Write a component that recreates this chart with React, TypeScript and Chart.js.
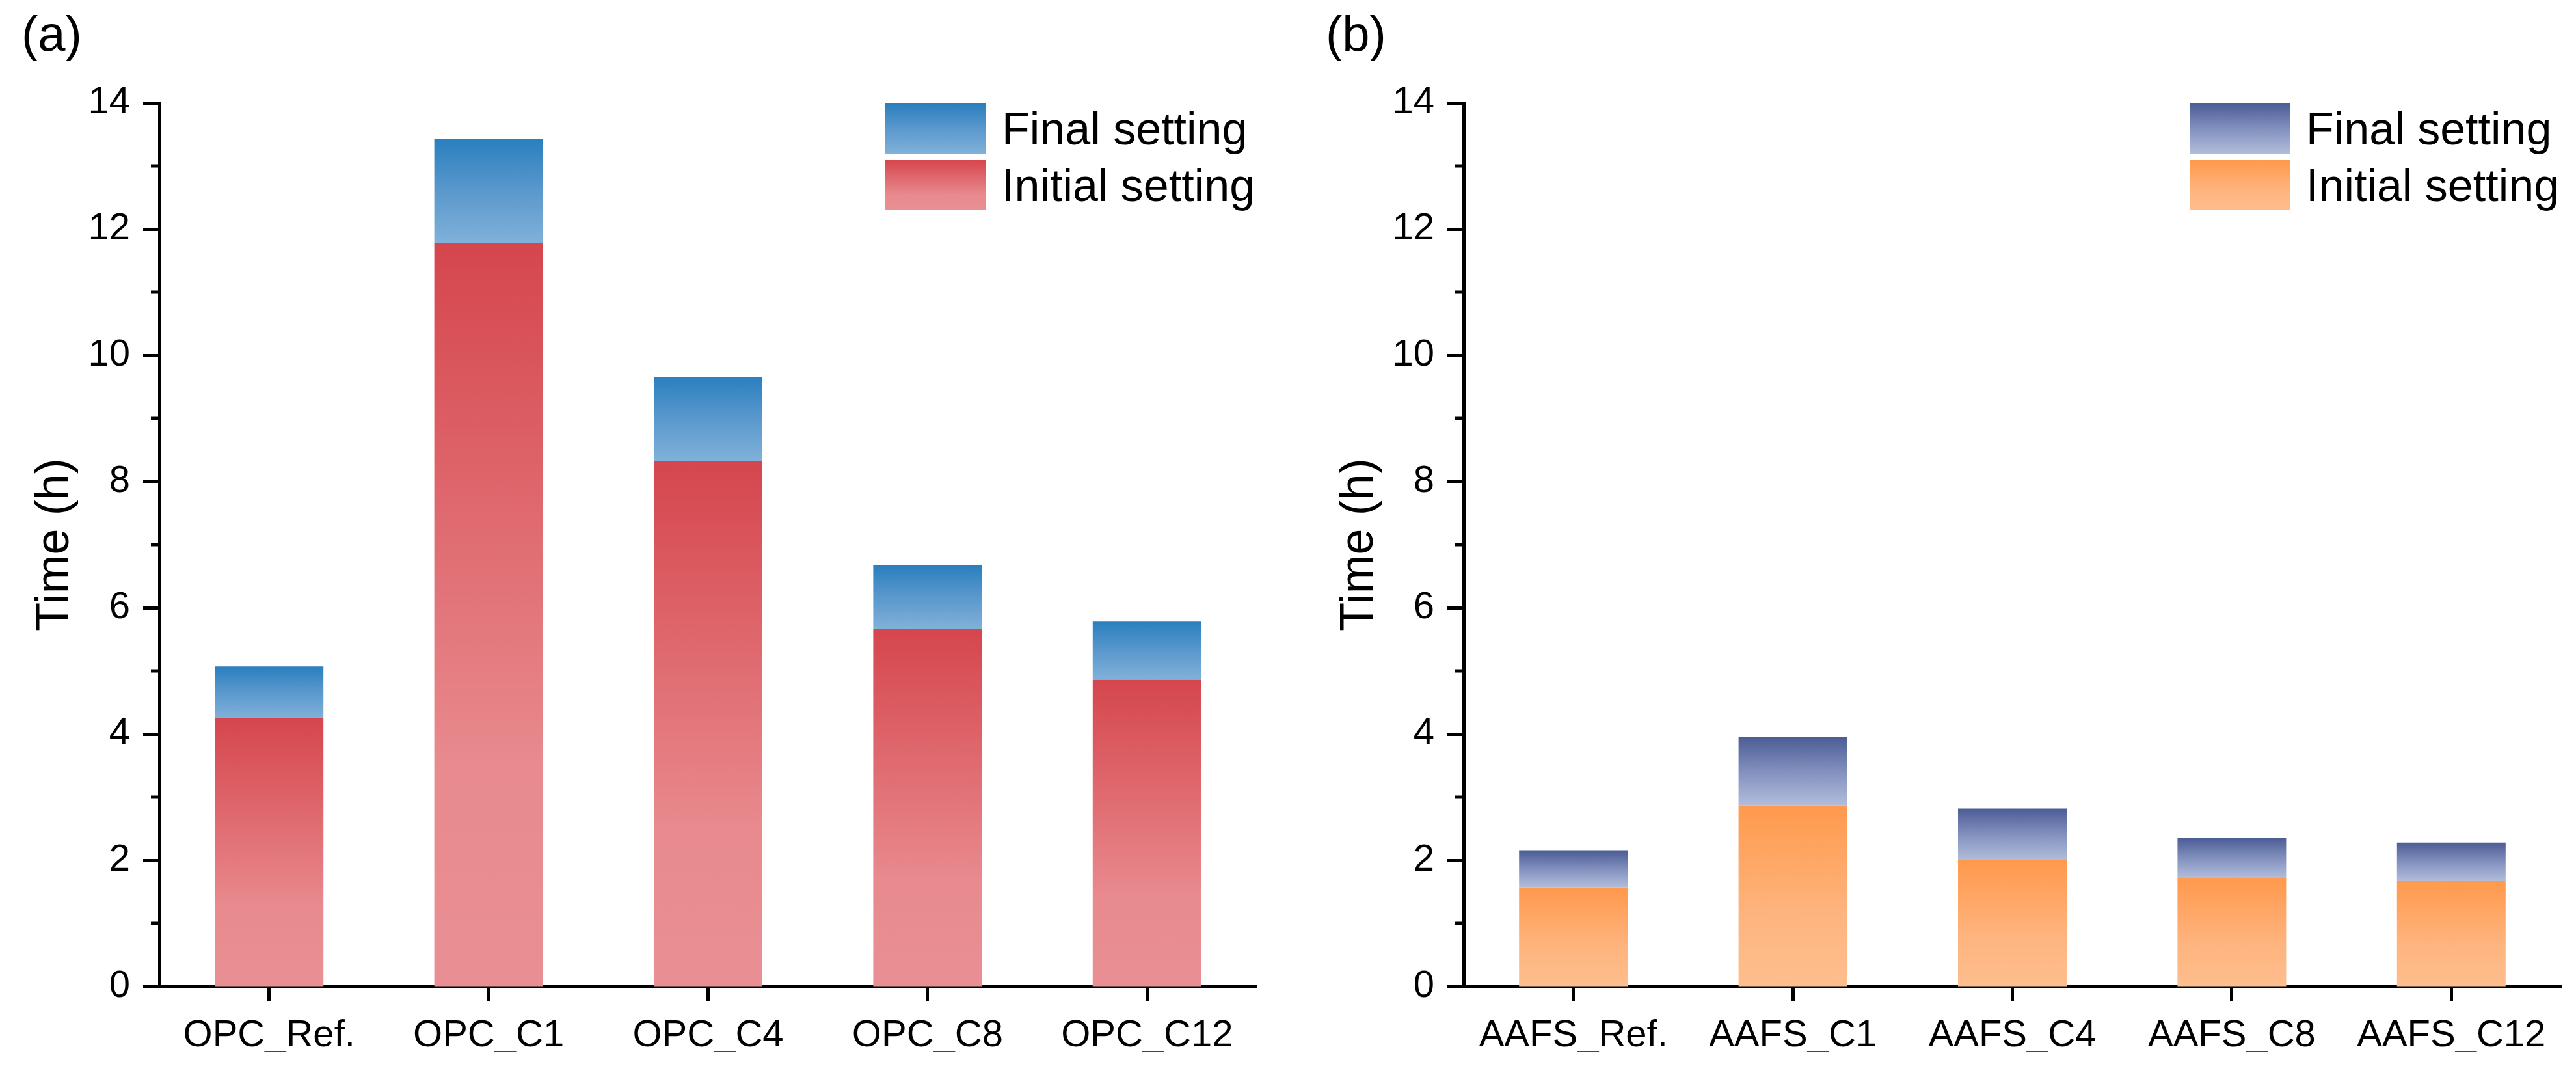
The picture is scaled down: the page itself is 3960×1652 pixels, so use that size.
import React, { useEffect, useRef } from 'react';
import { Chart, registerables } from 'chart.js';

Chart.register(...registerables);

// ---------- data ----------
const categoriesA = ['OPC_Ref.', 'OPC_C1', 'OPC_C4', 'OPC_C8', 'OPC_C12'];
const initialA = [4.25, 11.78, 8.33, 5.67, 4.86];
const finalA = [0.82, 1.65, 1.33, 1.0, 0.92];

const categoriesB = ['AAFS_Ref.', 'AAFS_C1', 'AAFS_C4', 'AAFS_C8', 'AAFS_C12'];
const initialB = [1.57, 2.87, 2.0, 1.72, 1.67];
const finalB = [0.58, 1.08, 0.82, 0.63, 0.61];

const seriesLabels = ['Initial setting', 'Final setting'];
const panelLabels = ['(a)', '(b)'];
const yTitle = 'Time (h)';
const yMin = 0;
const yMax = 14;
const yStep = 2;
const minorTickValues = [1, 3, 5, 7, 9, 11, 13];

// gradient stops (top -> bottom of each bar)
const redStops: [number, string][] = [[0, '#D5464D'], [0.7, '#E88A8E'], [1, '#E98F93']];
const blueStops: [number, string][] = [[0, '#2A7FBF'], [0.5, '#5A98CD'], [1, '#80B1D9']];
const orangeStops: [number, string][] = [[0, '#FF994D'], [0.6, '#FEB47E'], [1, '#FEBE8E']];
const navyStops: [number, string][] = [[0, '#4C5D96'], [0.5, '#8290BE'], [1, '#B2BDDB']];

const FONT = "'Liberation Sans', Arial, Helvetica, sans-serif";

function gradientFill(stops: [number, string][]) {
  return (c: any) => {
    const chart = c.chart;
    const y = chart.scales && chart.scales.y;
    if (!chart.chartArea || !y || c.type !== 'data') return stops[0][1];
    const ds = chart.data.datasets;
    let base = 0;
    for (let k = 0; k < c.datasetIndex; k++) base += Number(ds[k].data[c.dataIndex]) || 0;
    const top = base + (Number(ds[c.datasetIndex].data[c.dataIndex]) || 0);
    const y0 = y.getPixelForValue(top);
    const y1 = y.getPixelForValue(base);
    if (!isFinite(y0) || !isFinite(y1) || y0 === y1) return stops[0][1];
    const g = chart.ctx.createLinearGradient(0, y0, 0, y1);
    stops.forEach(([o, col]) => g.addColorStop(o, col));
    return g;
  };
}

const decorPlugin = {
  id: 'decor',
  afterDraw(chart: any, _args: any, opts: any) {
    const ctx = chart.ctx;
    const area = chart.chartArea;
    const y = chart.scales.y;
    ctx.save();
    // minor ticks
    ctx.strokeStyle = '#000';
    ctx.lineWidth = 5;
    minorTickValues.forEach((v) => {
      const py = y.getPixelForValue(v);
      ctx.beginPath();
      ctx.moveTo(area.left - 13, py);
      ctx.lineTo(area.left, py);
      ctx.stroke();
    });
    // panel label
    ctx.fillStyle = '#000';
    ctx.font = `76px ${FONT}`;
    ctx.textAlign = 'left';
    ctx.textBaseline = 'alphabetic';
    ctx.fillText(opts.panel, 33, 78);
    // legend (final on top, initial below)
    const bx = area.left + 1116;
    const bw = 155;
    const bh = 77;
    const items = [
      { label: opts.labels[1], stops: opts.topStops, y: area.top + 1 },
      { label: opts.labels[0], stops: opts.bottomStops, y: area.top + 88 },
    ];
    items.forEach((it) => {
      const g = ctx.createLinearGradient(0, it.y, 0, it.y + bh);
      it.stops.forEach(([o, col]: [number, string]) => g.addColorStop(o, col));
      ctx.fillStyle = g;
      ctx.fillRect(bx, it.y, bw, bh);
      ctx.fillStyle = '#000';
      ctx.font = `70px ${FONT}`;
      ctx.textBaseline = 'alphabetic';
      ctx.fillText(it.label, bx + 179, it.y + 63);
    });
    ctx.restore();
  },
};

function makeConfig(
  categories: string[],
  initial: number[],
  final: number[],
  initStops: [number, string][],
  finalStops: [number, string][],
  panel: string,
  rightPad: number
): any {
  return {
    type: 'bar',
    data: {
      labels: categories,
      datasets: [
        {
          label: seriesLabels[0],
          data: initial,
          backgroundColor: gradientFill(initStops),
          borderWidth: 0,
          barPercentage: 0.495,
          categoryPercentage: 1,
        },
        {
          label: seriesLabels[1],
          data: final,
          backgroundColor: gradientFill(finalStops),
          borderWidth: 0,
          barPercentage: 0.495,
          categoryPercentage: 1,
        },
      ],
    },
    options: {
      responsive: false,
      animation: false,
      devicePixelRatio: 1,
      layout: { padding: { top: 158, bottom: 36, left: 0, right: rightPad } },
      plugins: {
        legend: { display: false },
        tooltip: { enabled: false },
        title: { display: false },
        decor: { panel, labels: seriesLabels, topStops: finalStops, bottomStops: initStops },
      },
      scales: {
        x: {
          stacked: true,
          z: 1,
          offset: true,
          border: { display: true, color: '#000', width: 5 },
          grid: {
            offset: false,
            drawOnChartArea: false,
            drawTicks: true,
            tickLength: 22,
            tickWidth: 5,
            tickColor: '#000',
          },
          ticks: {
            autoSkip: false,
            maxRotation: 0,
            minRotation: 0,
            padding: 19,
            color: '#000',
            font: { family: FONT, size: 58 },
          },
          afterFit: (s: any) => {
            s.height = 100;
          },
        },
        y: {
          stacked: true,
          z: 1,
          min: yMin,
          max: yMax,
          border: { display: true, color: '#000', width: 5 },
          grid: {
            drawOnChartArea: false,
            drawTicks: true,
            tickLength: 25,
            tickWidth: 5,
            tickColor: '#000',
          },
          ticks: {
            stepSize: yStep,
            padding: 20,
            color: '#000',
            font: { family: FONT, size: 58 },
          },
          title: {
            display: true,
            text: yTitle,
            color: '#000',
            font: { family: FONT, size: 72 },
            padding: { top: 42, bottom: 0 },
          },
          afterFit: (s: any) => {
            s.width = 245;
          },
        },
      },
    },
    plugins: [decorPlugin],
  };
}

export default function App() {
  const refA = useRef<HTMLCanvasElement>(null);
  const refB = useRef<HTMLCanvasElement>(null);

  useEffect(() => {
    Chart.defaults.font.family = FONT;
    Chart.defaults.color = '#000';
    const a = new Chart(
      refA.current as HTMLCanvasElement,
      makeConfig(categoriesA, initialA, finalA, redStops, blueStops, panelLabels[0], 68)
    );
    const b = new Chart(
      refB.current as HTMLCanvasElement,
      makeConfig(categoriesB, initialB, finalB, orangeStops, navyStops, panelLabels[1], 23)
    );
    return () => {
      a.destroy();
      b.destroy();
    };
  }, []);

  return (
    <div style={{ position: 'fixed', left: 0, top: 0, width: 3960, height: 1652, background: '#fff' }}>
      <canvas
        ref={refA}
        width={2000}
        height={1652}
        style={{ position: 'absolute', left: 0, top: 0, width: 2000, height: 1652 }}
      />
      <canvas
        ref={refB}
        width={1955}
        height={1652}
        style={{ position: 'absolute', left: 2005, top: 0, width: 1955, height: 1652 }}
      />
    </div>
  );
}
